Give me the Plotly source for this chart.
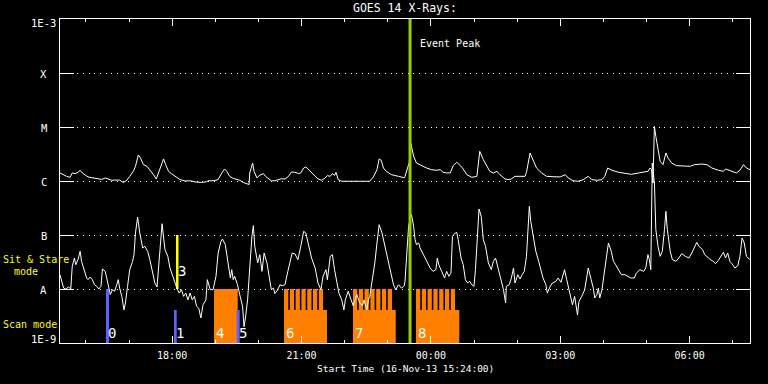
import math
import plotly.graph_objects as go
from datetime import datetime, timedelta

START = datetime(2013, 11, 16, 15, 24)
DURATION_MIN = 960

# ---- GOES long channel (1-8 A), minutes after start, flux in 1e-6 W/m^2
long_t = [0, 5, 9, 14, 17, 21, 25, 28, 31, 35, 39, 46, 53, 58, 63, 67, 72, 76, 83, 88,
          93, 97, 102, 105, 109, 112, 116, 121, 125, 130, 134, 139, 144, 147, 151, 155, 160, 167, 174, 181,
          188, 197, 204, 206, 213, 220, 225, 229, 232, 236, 241, 246, 250, 255, 261, 263, 264, 268, 270, 274,
          277, 281, 283, 286, 290, 294, 299, 304, 308, 313, 318, 322, 327, 332, 335, 339, 342, 345, 350, 355,
          359, 364, 369, 372, 376, 379, 382, 384, 387, 392, 401, 410, 420, 431, 436, 441, 444, 447, 450, 454,
          461, 471, 479,
          480, 484, 486, 488, 492, 496, 503, 510, 517, 524, 529, 533, 538, 543, 547, 552, 557, 561, 566, 573,
          580, 584, 589, 594, 598, 603, 608, 612, 619, 624, 628, 633, 640, 647, 649, 654, 659, 663, 670, 677,
          686, 696, 703, 707, 714, 721, 728, 735, 740, 747, 754, 758, 762, 768, 777, 786, 795, 805, 812, 818,
          821, 823, 825, 827, 829, 832, 835, 839, 843, 846, 851, 858, 867, 877, 883, 893, 900, 907, 916, 923,
          926, 931, 937, 941, 946, 951, 955, 960]
long_f = [1.41, 1.29, 1.22, 1.17, 1.41, 1.37, 1.45, 1.58, 1.41, 1.29, 1.19, 1.14, 1.10, 1.07, 1.14, 1.10, 1.03, 1.04, 1.04, 0.94,
          1.03, 1.22, 1.51, 1.87, 3.03, 2.67, 2.01, 1.87, 1.62, 1.31, 1.09, 1.62, 2.56, 2.01, 1.51, 1.37, 1.22, 1.06, 1.00, 1.01,
          0.96, 0.94, 0.97, 1.01, 1.01, 1.06, 1.41, 1.67, 1.51, 1.22, 1.12, 1.06, 1.03, 0.94, 0.88, 0.86, 1.41, 2.15, 1.51, 1.14,
          1.26, 1.31, 1.37, 1.22, 1.09, 1.01, 1.01, 1.06, 1.10, 1.09, 1.22, 1.47, 1.45, 1.37, 1.41, 1.74, 1.82, 1.67, 1.45, 1.26,
          1.09, 1.03, 1.14, 1.26, 1.22, 1.37, 1.27, 1.45, 1.06, 0.99, 1.00, 0.99, 0.99, 0.99, 1.19, 1.62, 2.56, 2.41, 1.74, 1.51,
          1.31, 1.22, 1.15,
          1.22, 1.74, 2.22, 5.06, 2.86, 2.15, 1.92, 1.74, 1.62, 1.58, 1.62, 1.45, 1.41, 1.41, 1.92, 2.22, 1.92, 1.67, 1.31, 1.17,
          1.22, 3.54, 2.48, 1.87, 1.51, 1.41, 1.51, 1.31, 1.09, 1.06, 1.09, 1.22, 1.22, 1.22, 1.45, 3.30, 2.31, 1.74, 1.41, 1.22,
          1.20, 1.19, 1.31, 1.14, 1.01, 0.99, 1.06, 1.22, 1.06, 1.03, 1.06, 1.22, 1.74, 1.58, 1.45, 1.37, 1.33, 1.41, 1.47, 1.51,
          1.74, 1.62, 0.92, 10.3, 6.71, 3.80, 2.31, 2.01, 3.30, 2.67, 2.15, 1.92, 1.87, 1.87, 2.01, 2.06, 2.01, 1.74, 1.58, 1.51,
          1.67, 1.58, 1.51, 1.41, 1.58, 2.01, 1.74, 1.62]

# ---- GOES short channel (0.5-4 A), minutes after start, flux in 1e-8 W/m^2
short_t = [0, 5, 8, 12, 15, 17, 20, 22, 25, 28, 30, 34, 37, 39, 42, 45, 48, 51, 54, 57,
           59, 63, 65, 67, 70, 73, 76, 79, 81, 83, 86, 89, 91, 94, 97, 101, 103, 105, 108, 111,
           115, 118, 122, 125, 128, 132, 135, 138, 140, 142, 146, 150, 153, 156, 160, 163, 166, 169, 172, 175,
           178, 181, 184, 187, 190, 193, 196, 199, 203, 205, 209, 213, 217, 220, 224, 226, 230, 233, 237, 239,
           241, 243, 247, 250, 254, 256, 258, 261, 264, 267, 269, 271, 275, 278, 281, 284, 288, 291, 294, 297,
           299, 303, 306, 309, 313, 317, 320, 323, 327, 331, 335, 339, 342, 346, 350, 355, 359, 363, 366, 370,
           372, 376, 379, 382, 385, 388, 392, 395, 397, 401, 405, 408, 413, 417, 421, 423, 427, 429, 431, 435,
           438, 441, 444, 448, 451, 455, 459, 464, 467, 471, 475, 479,
           480, 482, 485, 487, 489, 492, 494, 496, 499, 501, 506, 510, 515, 519, 523, 525, 527, 531, 535, 538,
           541, 544, 546, 550, 552, 554, 558, 561, 564, 567, 570, 573, 576, 578, 581, 583, 586, 589, 592, 596,
           600, 603, 606, 610, 614, 617, 620, 621, 625, 628, 631, 633, 637, 640, 643, 646, 649, 653, 655, 659,
           662, 666, 669, 672, 676, 678, 682, 685, 690, 693, 697, 702, 705, 708, 711, 713, 716, 718, 720, 722,
           726, 730, 733, 735, 739, 742, 744, 747, 749, 751, 754, 757, 761, 763, 767, 770, 773, 778, 781, 786,
           790, 794, 799, 802, 807, 812, 815, 818, 820, 822, 824, 827, 829, 832, 835, 838, 841, 843, 845, 849,
           852, 857, 861, 865, 870, 875, 879, 883, 886, 889, 894, 897, 902, 906, 909, 912, 916, 920, 923, 926,
           929, 932, 935, 939, 943, 946, 949, 952, 955, 959, 960]
short_f = [1.84, 1.04, 1.00, 1.09, 1.00, 2.63, 3.75, 2.82, 3.49, 4.99, 3.25, 2.28, 1.60, 1.49, 1.67, 1.49, 1.20, 1.12, 1.00, 1.12,
           2.35, 2.12, 1.60, 1.09, 0.79, 0.97, 0.91, 1.20, 1.49, 1.04, 0.73, 0.41, 0.55, 1.12, 2.28, 3.25, 4.32, 10.9, 21.5, 10.9,
           5.74, 6.17, 4.99, 3.49, 2.28, 1.29, 1.09, 3.49, 10.9, 16.2, 5.35, 4.03, 2.45, 1.84, 1.39, 1.00, 0.84, 0.97, 0.73, 0.84,
           0.63, 0.84, 0.63, 0.73, 0.48, 0.44, 0.29, 0.51, 0.63, 1.49, 0.97, 0.97, 1.72, 4.64, 7.64, 8.43, 6.62, 3.75, 1.60, 2.28,
           1.49, 1.72, 1.20, 0.79, 0.48, 0.20, 0.29, 0.63, 2.63, 9.44, 14.9, 6.17, 3.03, 4.32, 2.12, 4.64, 3.03, 1.84, 0.97, 1.04,
           0.82, 0.97, 1.20, 1.15, 1.20, 2.12, 3.03, 4.64, 4.45, 3.49, 6.17, 11.7, 10.9, 6.17, 3.75, 2.45, 1.29, 0.97, 1.72, 2.28,
           1.49, 4.03, 4.32, 2.28, 1.29, 0.84, 0.63, 0.41, 0.63, 0.91, 0.63, 0.49, 0.79, 0.55, 0.49, 0.63, 0.41, 0.63, 0.73, 1.49,
           3.03, 7.11, 15.5, 10.9, 7.11, 4.32, 2.28, 1.20, 0.97, 1.20, 1.04, 1.15,
           1.39, 4.03, 14.5, 19.2, 23.8, 14.5, 8.20, 6.62, 7.11, 5.74, 4.32, 3.25, 2.45, 2.12, 2.28, 3.75, 2.82, 2.12, 1.60, 2.12,
           1.72, 1.98, 9.44, 10.9, 11.2, 8.20, 3.75, 2.82, 1.49, 1.29, 1.39, 1.20, 1.12, 2.28, 14.5, 30.3, 22.2, 8.20, 6.17, 3.03,
           2.28, 3.25, 3.75, 2.28, 1.49, 0.97, 0.55, 1.12, 1.20, 1.60, 2.45, 1.29, 1.84, 1.53, 1.84, 2.12, 4.03, 34.0, 17.9, 7.64,
           4.99, 3.25, 2.28, 1.60, 1.20, 0.84, 1.12, 1.29, 1.39, 1.60, 1.33, 2.28, 1.49, 1.04, 0.68, 0.51, 0.73, 0.48, 0.33, 0.59,
           0.73, 0.97, 1.84, 2.45, 1.49, 1.04, 0.68, 0.79, 1.04, 0.68, 0.97, 1.98, 4.32, 7.11, 4.99, 3.25, 2.82, 2.12, 1.84, 1.84,
           1.72, 1.60, 1.60, 1.98, 2.28, 2.12, 2.45, 4.32, 3.49, 2.28, 215, 91.8, 12.6, 6.17, 4.03, 4.99, 12.6, 27.4, 12.6, 4.99,
           3.49, 3.25, 3.75, 4.51, 4.03, 3.75, 4.64, 6.00, 7.31, 6.17, 5.35, 4.32, 3.75, 3.40, 3.25, 2.94, 3.40, 4.03, 4.78, 3.75,
           4.64, 3.25, 2.94, 2.45, 2.70, 4.03, 8.80, 7.11, 4.03, 3.59, 3.59]

# ---- Observation blocks (minutes after start)
scan_start = [214.3, 311.7, 407.6, 495.3]
scan_end = [247.2, 371.5, 467.1, 555.5]
scan_low = [1e-9, 1e-9, 1e-9, 1e-9]
scan_high = [1e-8, 4.1e-9, 4.1e-9, 4.1e-9]
raster_start = [311.7, 319.8, 327.8, 335.9, 344.0, 352.0, 360.1,
                407.6, 415.7, 423.7, 431.8, 439.9, 447.9, 456.0,
                495.3, 503.4, 511.4, 519.5, 527.6, 535.6, 543.7]
raster_end = [317.6, 325.7, 333.7, 341.8, 349.9, 357.9, 366.0,
              413.5, 421.6, 429.6, 437.7, 445.8, 453.8, 461.9,
              501.2, 509.3, 517.3, 525.4, 533.5, 541.5, 549.6]
raster_low = 4.1e-9
raster_high = 1e-8
other_start = [64.0, 158.6, 245.8]
other_end = [68.2, 162.4, 250.0]
other_high = [1e-8, 4.1e-9, 4.1e-9]
sit_start = [161.4]
sit_end = [164.9]
sit_low = [1e-8]
sit_high = [1e-7]

obs_labels = ['0', '1', '3', '4', '5', '6', '7', '8']
obs_label_t = [64.0, 158.6, 161.4, 214.3, 245.8, 311.7, 407.6, 495.3]
obs_label_flux = [1.53e-9, 1.53e-9, 2.15e-8, 1.53e-9, 1.53e-9, 1.53e-9, 1.53e-9, 1.53e-9]

event_peak_t = 487

level_names = ['1E-3', 'X', 'M', 'C', 'B', 'A', '1E-9']
level_values = [1e-3, 1e-4, 1e-5, 1e-6, 1e-7, 1e-8, 1e-9]

FONT = 'DejaVu Sans Mono'


def T(m):
    return START + timedelta(minutes=m)


def rect_trace(starts, ends, lows, highs, color):
    xs, ys = [], []
    for s, e, lo, hi in zip(starts, ends, lows, highs):
        xs += [T(s), T(e), T(e), T(s), T(s), None]
        ys += [lo, lo, hi, hi, lo, None]
    return go.Scatter(x=xs, y=ys, mode='lines', fill='toself', fillcolor=color,
                      line=dict(width=0, color=color), hoverinfo='skip', showlegend=False)


fig = go.Figure()
fig.add_trace(rect_trace(scan_start, scan_end, scan_low, scan_high, '#ff8000'))
fig.add_trace(rect_trace(raster_start, raster_end, [raster_low] * len(raster_start),
                         [raster_high] * len(raster_start), '#ff8000'))
fig.add_trace(rect_trace(other_start, other_end, [1e-9] * len(other_start), other_high, '#6060ff'))
fig.add_trace(rect_trace(sit_start, sit_end, sit_low, sit_high, '#ffff00'))

fig.add_trace(go.Scatter(x=[T(m) for m in short_t], y=[v * 1e-8 for v in short_f], mode='lines',
                         line=dict(color='white', width=1), showlegend=False))
fig.add_trace(go.Scatter(x=[T(m) for m in long_t], y=[v * 1e-6 for v in long_f], mode='lines',
                         line=dict(color='white', width=1), showlegend=False))
fig.add_trace(go.Scatter(x=[T(event_peak_t), T(event_peak_t)], y=[1e-9, 1e-3], mode='lines',
                         line=dict(color='#99cc00', width=3), showlegend=False))

ann = []
for name, val in zip(level_names, level_values):
    shift = -4 if name == '1E-3' else (4 if name == '1E-9' else -1)
    ann.append(dict(xref='paper', x=(43.7 - 60) / 690, xanchor='center', yref='y', y=math.log10(val),
                    yanchor='middle', yshift=shift, text=name, showarrow=False,
                    font=dict(family=FONT, size=10.5, color='white')))
for txt, t, f in zip(obs_labels, obs_label_t, obs_label_flux):
    ann.append(dict(xref='x', x=T(t), xanchor='left', xshift=0, yref='y', y=math.log10(f), yanchor='middle',
                    text=txt, showarrow=False, font=dict(family=FONT, size=14, color='white')))
ann.append(dict(xref='x', x=T(event_peak_t), xshift=8, xanchor='left', yref='paper', y=(343 - 43) / 324,
                yanchor='middle', text='Event Peak', showarrow=False, font=dict(family=FONT, size=10, color='white')))
ann.append(dict(xref='paper', x=0.5, xanchor='center', yref='paper', y=(343 - 8) / 324, yanchor='middle',
                text='GOES 14 X-Rays:', showarrow=False, font=dict(family=FONT, size=11.5, color='white')))
ann.append(dict(xref='paper', x=0.5, xanchor='center', yref='paper', y=(343 - 368.5) / 324, yanchor='middle',
                text='Start Time (16-Nov-13 15:24:00)', showarrow=False,
                font=dict(family=FONT, size=9.5, color='white')))
ann.append(dict(xref='paper', x=(1 - 60) / 690, xanchor='left', yref='paper', y=(343 - 259) / 324, yanchor='middle',
                text='Sit & Stare', showarrow=False, font=dict(family=FONT, size=10, color='#ffff00')))
ann.append(dict(xref='paper', x=(12 - 60) / 690, xanchor='left', yref='paper', y=(343 - 271) / 324, yanchor='middle',
                text='mode', showarrow=False, font=dict(family=FONT, size=10, color='#ffff00')))
ann.append(dict(xref='paper', x=(1 - 60) / 690, xanchor='left', yref='paper', y=(343 - 324) / 324, yanchor='middle',
                text='Scan mode', showarrow=False, font=dict(family=FONT, size=10, color='#ffff00')))

fig.update_layout(
    template='none',
    width=768, height=384,
    margin=dict(l=60, r=18, t=19, b=41, pad=0),
    paper_bgcolor='black', plot_bgcolor='black',
    showlegend=False,
    annotations=ann,
    xaxis=dict(type='date', range=[T(0), T(DURATION_MIN)], automargin=False,
               tickformat='%H:%M', tick0='2013-11-16 00:00', dtick=3 * 3600 * 1000,
               ticks='inside', ticklen=7, tickwidth=1, tickcolor='white', mirror='ticks',
               ticklabelstandoff=3,
               showline=True, linecolor='white', linewidth=1, showgrid=False, zeroline=False,
               tickfont=dict(family=FONT, size=10, color='white'),
               minor=dict(ticks='inside', ticklen=3, tickwidth=1, tickcolor='white',
                          tick0='2013-11-16 00:00', dtick=3600 * 1000, showgrid=False)),
    yaxis=dict(type='log', range=[-9, -3], automargin=False,
               tickvals=level_values[1:-1], showticklabels=False,
               ticks='inside', ticklen=14, tickwidth=1, tickcolor='white', mirror='ticks',
               showline=True, linecolor='white', linewidth=1,
               showgrid=True, gridcolor='white', gridwidth=1, griddash='1px,4.7px', zeroline=False),
)

fig.write_html('out.html')
